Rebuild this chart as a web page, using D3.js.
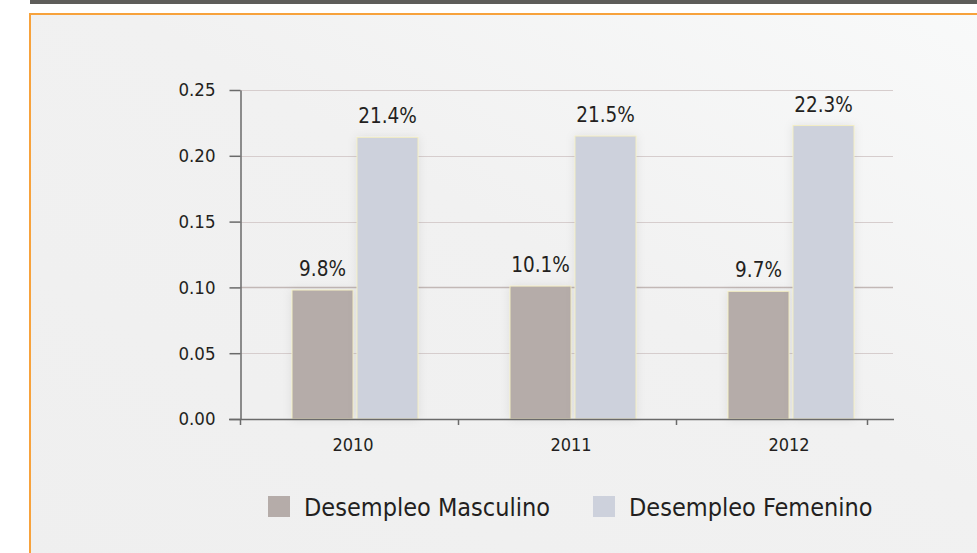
<!DOCTYPE html>
<html>
<head>
<meta charset="utf-8">
<script src="https://cdn.jsdelivr.net/npm/d3@7"></script>
<style>
  html, body { margin: 0; padding: 0; background: #ffffff; }
  svg text { font-family: "DejaVu Sans Condensed", "DejaVu Sans", sans-serif; fill: #231f20; }
</style>
</head>
<body>
<div id="chart"></div>
<script>
// datos
const years = ["2010", "2011", "2012"];
const masculino = [0.098, 0.101, 0.097];
const femenino = [0.214, 0.215, 0.223];
const seriesNames = ["Desempleo Masculino", "Desempleo Femenino"];
const yTicks = [0.00, 0.05, 0.10, 0.15, 0.20, 0.25];

const colors = ["#b5aca9", "#cdd1dc"];

const width = 977;
const height = 553;

const svg = d3.select("#chart").append("svg")
  .attr("width", width)
  .attr("height", height);

const defs = svg.append("defs");

const grad = defs.append("linearGradient")
  .attr("id", "bg")
  .attr("x1", "0%").attr("y1", "100%")
  .attr("x2", "100%").attr("y2", "0%");
grad.append("stop").attr("offset", "0%").attr("stop-color", "#efefef");
grad.append("stop").attr("offset", "55%").attr("stop-color", "#f1f1f1");
grad.append("stop").attr("offset", "100%").attr("stop-color", "#f9fafa");

const glow = defs.append("filter")
  .attr("id", "glow")
  .attr("x", "-30%").attr("y", "-10%")
  .attr("width", "160%").attr("height", "120%");
glow.append("feDropShadow")
  .attr("dx", 0).attr("dy", 0)
  .attr("stdDeviation", 5)
  .attr("flood-color", "#000")
  .attr("flood-opacity", 0.08);

// marco
svg.append("rect")
  .attr("x", 30).attr("y", 0)
  .attr("width", width - 30).attr("height", 4)
  .attr("fill", "#5e5d5a");

svg.append("rect")
  .attr("x", 30).attr("y", 14)
  .attr("width", width + 10).attr("height", height + 10)
  .attr("fill", "url(#bg)")
  .attr("stroke", "#f7a23c")
  .attr("stroke-width", 2);

// escalas
const y = d3.scaleLinear()
  .domain([0, 0.25])
  .range([419, 90]);

const x = d3.scaleBand()
  .domain(years)
  .range([240, 894]);

const groupOffset = 6;
const barW = 61;
const barGap = 4;

// lineas de cuadricula
svg.append("g")
  .selectAll("line")
  .data(yTicks.filter(d => d > 0))
  .enter().append("line")
  .attr("x1", 240)
  .attr("x2", 893)
  .attr("y1", d => Math.round(y(d)) + 0.5)
  .attr("y2", d => Math.round(y(d)) + 0.5)
  .attr("stroke", d => d === 0.10 ? "#c2b8b6" : "#d6cdcd")
  .attr("stroke-width", d => d === 0.10 ? 1.6 : 1.2);

// eje y
const yAxis = svg.append("g")
  .attr("transform", "translate(240.5,0)")
  .call(d3.axisLeft(y)
    .tickValues(yTicks)
    .tickFormat(d3.format(".2f"))
    .tickSize(11)
    .tickSizeOuter(0)
    .tickPadding(14));
yAxis.select(".domain").attr("stroke", "#6a6a6a").attr("stroke-width", 1.5);
yAxis.selectAll(".tick line").attr("stroke", "#6a6a6a").attr("stroke-width", 1.5);
yAxis.selectAll(".tick text")
  .attr("font-size", 18.5)
  .attr("font-family", null)
  .attr("fill", "#231f20");

svg.append("line")
  .attr("x1", 240.5).attr("x2", 240.5)
  .attr("y1", 419).attr("y2", 425)
  .attr("stroke", "#6a6a6a").attr("stroke-width", 1.5);

// barras
const groups = svg.append("g")
  .selectAll("g")
  .data(years)
  .enter().append("g")
  .attr("transform", d => `translate(${x(d) + x.bandwidth() / 2 + groupOffset},0)`);

const seriesData = [masculino, femenino];

seriesData.forEach((vals, s) => {
  groups.append("rect")
    .attr("x", s === 0 ? -barW - barGap / 2 : barGap / 2)
    .attr("y", (d, i) => y(vals[i]))
    .attr("width", barW)
    .attr("height", (d, i) => y(0) - y(vals[i]))
    .attr("fill", colors[s])
    .attr("stroke", "#f2edc4")
    .attr("stroke-width", 1)
    .attr("filter", "url(#glow)");

  groups.append("text")
    .attr("x", s === 0 ? -barW / 2 - barGap / 2 : barW / 2 + barGap / 2)
    .attr("y", (d, i) => y(vals[i]) - 14)
    .attr("text-anchor", "middle")
    .attr("font-size", 20.5)
    .text((d, i) => d3.format(".1%")(vals[i]));
});

// eje x
svg.append("line")
  .attr("x1", 229).attr("x2", 894)
  .attr("y1", 419.5).attr("y2", 419.5)
  .attr("stroke", "#6a6a6a").attr("stroke-width", 1.5);

const xTickPos = years.slice(1).map(d => x(d)).concat([x.range()[1] - 27]);
svg.append("g")
  .selectAll("line")
  .data(xTickPos)
  .enter().append("line")
  .attr("x1", d => d + 0.5).attr("x2", d => d + 0.5)
  .attr("y1", 419).attr("y2", 425)
  .attr("stroke", "#6a6a6a").attr("stroke-width", 1.5);

svg.append("g")
  .selectAll("text")
  .data(years)
  .enter().append("text")
  .attr("x", d => x(d) + x.bandwidth() / 2 + groupOffset - 2)
  .attr("y", 451)
  .attr("text-anchor", "middle")
  .attr("font-size", 18)
  .text(d => d);

// leyenda
const legendX = [268, 593];
const legend = svg.append("g")
  .selectAll("g")
  .data(seriesNames)
  .enter().append("g")
  .attr("transform", (d, i) => `translate(${legendX[i]},496)`);

legend.append("rect")
  .attr("width", 22)
  .attr("height", 21)
  .attr("fill", (d, i) => colors[i]);

legend.append("text")
  .attr("x", 36)
  .attr("y", 20)
  .attr("font-size", 25)
  .text(d => d);
</script>
</body>
</html>
